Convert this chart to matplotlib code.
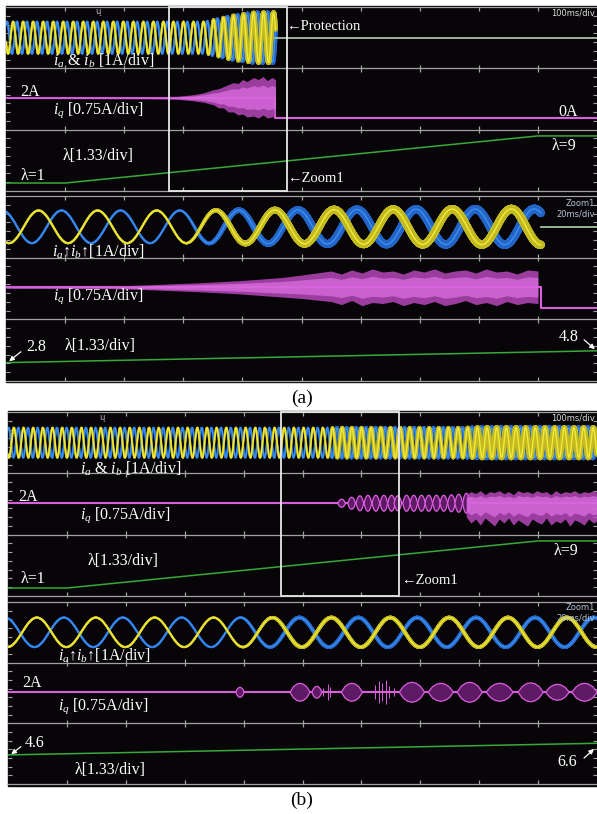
import numpy as np
import matplotlib.pyplot as plt
from matplotlib.collections import LineCollection
from matplotlib.patches import Rectangle, FancyArrowPatch

plt.rcParams["mathtext.fontset"] = "custom"
plt.rcParams["mathtext.rm"] = "Liberation Serif"
plt.rcParams["mathtext.it"] = "Liberation Serif:italic"

SERIF = ["Liberation Serif", "DejaVu Serif"]
SCOPE = ["Liberation Sans Narrow", "DejaVu Sans"]
W, H = 597, 814

# ---------------- values read off the two scope captures ----------------
# lambda command (same ramp in both tests), ms / -
lam_t = [0, 100, 900, 1000]
lam_val = [1, 1, 9, 9]

# zoom windows (ms)
zoom_a = (275, 475)
zoom_b = (464, 664)

# (a) phase currents ia, ib
ia_a_stop = 456                 # protection trips here (ms)
ia_a_lag = 140                  # deg
# slow view, 100 ms/div (displayed frequency)
ia_a_slow_hz = 59
ia_a_slow_peak = 12
ia_a_slow_amp_t = [0, 335, 380, 420, 456]
ia_a_slow_amp = [0.96, 0.96, 1.3, 1.5, 1.5]
ia_a_slow_noise_t = [0, 335, 380, 456]
ia_a_slow_noise = [0.03, 0.03, 0.09, 0.12]
# zoom view, 20 ms/div
ia_a_zoom_hz = 50
ia_a_zoom_peak = 286
ia_a_zoom_amp_t = [0, 335, 400, 456]
ia_a_zoom_amp = [0.98, 0.98, 1.05, 1.08]
ia_a_zoom_noise_t = [0, 335, 350, 380, 456]
ia_a_zoom_noise = [0.03, 0.03, 0.12, 0.2, 0.22]

# (a) iq
iq_a_t = [0, 456, 456, 1000]
iq_a = [2, 2, 0, 0]
iq_a_slow_env_t = [0, 240, 290, 317, 335, 351, 360, 368, 376, 385, 393, 400, 408, 419, 427, 435, 442, 450, 456]
iq_a_slow_hi = [0.08, 0.1, 0.15, 0.3, 0.5, 0.8, 0.9, 1.1, 1.3, 1.5, 1.4, 1.8, 1.6, 2.0, 1.8, 2.1, 1.7, 2.0, 1.8]
iq_a_slow_lo = [0.08, 0.1, 0.15, 0.3, 0.45, 0.7, 1.0, 1.0, 1.4, 1.4, 1.7, 1.6, 1.9, 1.8, 2.0, 1.7, 2.0, 1.9, 1.7]
iq_a_zoom_env_t = [275, 310, 324, 341, 354, 368, 375, 385, 388.5, 392, 395.5, 399, 402.5, 406, 409.5,
                   413, 416.5, 420, 423.5, 427, 430.5, 434, 437.5, 441, 444.5, 448, 451.5, 455]
iq_a_zoom_hi = [0.1, 0.12, 0.25, 0.45, 0.65, 0.95, 1.2, 1.6, 1.3, 1.7, 1.4, 1.8, 1.5, 1.6, 1.3,
                1.7, 1.5, 1.8, 1.4, 1.6, 1.7, 1.4, 1.8, 1.5, 1.6, 1.3, 1.7, 1.6]
iq_a_zoom_lo = [0.1, 0.12, 0.25, 0.45, 0.65, 0.95, 1.1, 1.4, 1.7, 1.3, 1.8, 1.5, 1.6, 1.4, 1.8,
                1.5, 1.7, 1.4, 1.8, 1.6, 1.3, 1.7, 1.5, 1.8, 1.4, 1.7, 1.5, 1.6]

# (b) phase currents ia, ib
ia_b_lag = 165
ia_b_slow_hz = 61
ia_b_slow_peak = 10
ia_b_zoom_hz = 50
ia_b_zoom_peak = 473.8
ia_b_amp_t = [0, 1000]
ia_b_amp = [0.9, 0.9]
ia_b_noise_t = [0, 540, 560, 775, 800, 1000]
ia_b_noise = [0.03, 0.03, 0.08, 0.08, 0.13, 0.13]

# (b) iq: beat lobes and noise band
iq_b_t = [0, 1000]
iq_b = [2, 2]
iq_b_slow_lobe_t = [565.6, 582.5, 596.6, 610.2, 623.7, 637.3, 650.3, 661.0, 675.8, 688.1,
                    701.2, 713.6, 726.6, 739.0, 752.0, 764.4, 777.5]
iq_b_slow_lobe_h = [0.4, 0.6, 0.75, 0.8, 0.8, 0.8, 0.8, 0.75, 0.8, 0.8,
                    0.8, 0.8, 0.8, 0.8, 0.85, 0.9, 1.0]
iq_b_slow_lobe_hw = 6.5
iq_b_slow_env_t = [778, 786, 794, 802, 810, 818, 826, 834, 842, 850, 858, 866, 874, 882, 890,
                   898, 906, 914, 922, 930, 938, 946, 954, 962, 970, 978, 986, 994, 1000]
iq_b_slow_hi = [0.8, 1.1, 0.9, 1.2, 0.8, 1.1, 1.0, 1.2, 0.9, 1.1, 0.8, 1.2, 1.0, 1.1, 0.9,
                1.2, 1.0, 1.1, 0.8, 1.2, 0.9, 1.1, 1.0, 1.2, 0.9, 1.1, 1.0, 1.2, 1.0]
iq_b_slow_lo = [1.4, 2.0, 1.6, 2.2, 1.5, 1.9, 2.3, 1.6, 2.0, 1.5, 2.2, 1.7, 2.0, 2.3, 1.6,
                1.9, 2.1, 1.5, 2.2, 1.8, 2.0, 1.6, 2.3, 1.7, 1.9, 2.2, 1.6, 2.0, 1.8]
iq_b_zoom_lobe_t = [542.6, 563.0, 568.7, 580.6, 601.0, 610.8, 620.6, 630.8, 641.3, 650.4, 659.6]
iq_b_zoom_lobe_hw = [1.4, 3.4, 1.7, 3.6, 4.3, 4.3, 4.3, 4.6, 4.3, 4.0, 4.3]
iq_b_zoom_lobe_h = [0.5, 0.9, 0.6, 0.9, 1.0, 0.9, 1.0, 0.9, 0.95, 0.8, 0.9]
iq_b_zoom_spike_t = [571.0, 572.5, 573.5, 588.5, 590.0, 591.0, 592.3, 593.5, 595.0]
iq_b_zoom_spike_h = [0.4, 0.8, 0.5, 0.7, 1.1, 0.9, 1.2, 0.6, 0.4]

# ---------------- screen scales (rows of the scope display) ----------------
PX_ROW = 61.5
IAB_ZERO, IAB = 2.5, 0.27       # rows, rows per A
IQ_ZERO, IQ = 1.19, 0.165
LAM_ONE, LAM = 0.13, 0.096

BG = "#080508"
GRID = "#a2a2a2"
YEL, YEL_D = "#f2ea38", "#c4bb22"
BLUE, BLUE_D = "#3a8ff0", "#2466c8"
MAG, MAG_D = "#dc5ee0", "#5e1a64"
GREEN = "#38a83a"
FLAT = "#a6c2a6"


def lam_row(v):
    return LAM_ONE + (np.asarray(v, float) - 1) * LAM


def iq_row(v):
    return IQ_ZERO + np.asarray(v, float) * IQ


def screen(fig, x0, y0, x1, y1):
    fig.patches.append(Rectangle((x0 / W, 1 - y1 / H), (x1 - x0) / W, (y1 - y0) / H,
                                 transform=fig.transFigure, color=BG, zorder=-10))


def section(fig, x0, y0, x1, y1, t0, t1):
    ax = fig.add_axes([x0 / W, 1 - y1 / H, (x1 - x0) / W, (y1 - y0) / H], zorder=2)
    ax.set_xlim(t0, t1)
    ax.set_ylim(0, 3)
    ax.axis("off")
    step = (t1 - t0) / 10
    divs = [t0 + k * step for k in range(1, 10)]
    for y in (0, 1, 2, 3):
        ax.plot([t0, t1], [y, y], color=GRID, lw=0.9, clip_on=False, zorder=1)
        lo = y - 0.06 if y > 0 else y
        hi = y + 0.06 if y < 3 else y
        ax.vlines(divs, lo, hi, color=GRID, lw=0.9, clip_on=False, zorder=1)
    minor = [k / 7 for k in range(1, 21) if k % 7]
    ax.hlines(minor, t0, t0 + 0.07 * step, color=GRID, lw=0.8, zorder=1)
    ax.hlines(minor, t1 - 0.07 * step, t1, color=GRID, lw=0.8, zorder=1)
    return ax


def draw_currents(ax, t0, t1, hz, peak, lag, amp_t, amp, noise_t, noise, stop=None):
    t_end = t1 if stop is None else min(t1, stop)
    t = np.linspace(t0, t_end, 3000)
    a = np.interp(t, amp_t, amp)
    n = np.interp(t, noise_t, noise)
    ph = 2 * np.pi * hz * (t - peak) / 1000
    ia = IAB_ZERO + IAB * a * np.cos(ph)
    ib = IAB_ZERO + IAB * a * np.cos(ph - np.radians(lag))
    lw = (2 * n * IAB * PX_ROW + 1.2) * 0.72
    for y, dark, bright in ((ib, BLUE_D, BLUE), (ia, YEL_D, YEL)):
        pts = np.column_stack([t, y]).reshape(-1, 1, 2)
        seg = np.concatenate([pts[:-1], pts[1:]], axis=1)
        ax.add_collection(LineCollection(seg, linewidths=lw[:-1], colors=dark,
                                         capstyle="round", alpha=0.9, zorder=2))
        ax.plot(t, y, color=bright, lw=1.0, zorder=2)
    if stop is not None and stop < t1:
        ax.plot([stop, t1], [IAB_ZERO, IAB_ZERO], color=FLAT, lw=1.3, zorder=2)


def draw_band(ax, t, level, hi, lo):
    hi, lo = np.asarray(hi), np.asarray(lo)
    base = iq_row(level)
    ax.fill_between(t, base - IQ * lo, base + IQ * hi, color="#c04cc6", alpha=0.8, lw=0, zorder=3)
    ax.fill_between(t, base - IQ * lo * 0.6, base + IQ * hi * 0.6, color="#e070e4", alpha=0.7,
                    lw=0, zorder=3)


LOBE_X = np.array([-1, -2 / 3, -1 / 3, 0, 1 / 3, 2 / 3, 1])
LOBE_Y = np.array([0, 0.6, 0.9, 1.0, 0.9, 0.6, 0])


def draw_lobes(ax, centers, hws, heights, level):
    base = iq_row(level)
    for c, hw, h in zip(centers, hws, heights):
        dy = IQ * h * LOBE_Y
        ax.fill_between(c + hw * LOBE_X, base - dy, base + dy, facecolor=MAG_D,
                        edgecolor=MAG, lw=0.9, zorder=3)


def draw_common(ax, iq_t, iq_v):
    ax.plot(iq_t, iq_row(iq_v), color=MAG, lw=1.5, zorder=3)
    ax.plot(lam_t, lam_row(lam_val), color=GREEN, lw=1.1, zorder=2)


fig = plt.figure(figsize=(W / 100, H / 100), dpi=100)
fig.patch.set_facecolor("white")


def label(x, y, s, size=11.5, color="white", ha="left", family=SERIF):
    fig.text(x / W, 1 - y / H, s, color=color, fontsize=size, ha=ha, va="center",
             family=family, zorder=6)


def arrow(x0, y0, x1, y1):
    fig.add_artist(FancyArrowPatch((x0 / W, 1 - y0 / H), (x1 / W, 1 - y1 / H),
                                   transform=fig.transFigure, arrowstyle="-|>",
                                   mutation_scale=7, color="white", lw=0.9, zorder=6))


# ---------------- (a) ----------------
screen(fig, 6, 6, 597, 382)
ax = section(fig, 6, 7, 597, 191, 0, 1000)
draw_currents(ax, 0, 1000, ia_a_slow_hz, ia_a_slow_peak, ia_a_lag, ia_a_slow_amp_t,
              ia_a_slow_amp, ia_a_slow_noise_t, ia_a_slow_noise, stop=ia_a_stop)
draw_common(ax, iq_a_t, iq_a)
draw_band(ax, iq_a_slow_env_t, 2, iq_a_slow_hi, iq_a_slow_lo)
ax.add_patch(Rectangle((zoom_a[0], 0), zoom_a[1] - zoom_a[0], 3, fill=False, ec="#e8e8e8",
                       lw=1.3, clip_on=False, zorder=5))

ax = section(fig, 6, 196, 597, 381, *zoom_a)
draw_currents(ax, *zoom_a, ia_a_zoom_hz, ia_a_zoom_peak, ia_a_lag, ia_a_zoom_amp_t,
              ia_a_zoom_amp, ia_a_zoom_noise_t, ia_a_zoom_noise, stop=ia_a_stop)
draw_common(ax, iq_a_t, iq_a)
draw_band(ax, iq_a_zoom_env_t, 2, iq_a_zoom_hi, iq_a_zoom_lo)

label(53, 61, r"$i_a$ & $i_b$ [1A/div]")
label(20, 92, "2A")
label(53, 110, r"$i_q$ [0.75A/div]")
label(63, 156, "λ[1.33/div]")
label(21, 176, "λ=1")
label(286, 26, "←Protection", size=10.5)
label(287, 179, "←Zoom1", size=10.5)
label(558, 112, "0A")
label(552, 146, "λ=9")
label(595, 13, "100ms/div", size=6, color="#dddddd", ha="right", family=SCOPE)
label(95, 12, "ų", size=6, color="#bbbbbb", family=["DejaVu Sans"])
label(52, 252, r"$i_a$↑$i_b$↑[1A/div]")
label(53, 296, r"$i_q$ [0.75A/div]")
label(26, 347, "2.8")
arrow(23, 350, 7, 363)
label(65, 346, "λ[1.33/div]")
label(559, 337, "4.8")
arrow(582, 338, 597, 351)
label(595, 203, "Zoom1", size=6, color="#b4c4d4", ha="right", family=SCOPE)
label(595, 214, "20ms/div", size=6, color="#b4c4d4", ha="right", family=SCOPE)
label(302, 398, "(a)", size=14, color="black", ha="center")

# ---------------- (b) ----------------
screen(fig, 8, 411, 597, 786)
ax = section(fig, 8, 412, 597, 596, 0, 1000)
draw_currents(ax, 0, 1000, ia_b_slow_hz, ia_b_slow_peak, ia_b_lag, ia_b_amp_t, ia_b_amp,
              ia_b_noise_t, ia_b_noise)
draw_common(ax, iq_b_t, iq_b)
draw_lobes(ax, iq_b_slow_lobe_t, [iq_b_slow_lobe_hw] * len(iq_b_slow_lobe_t),
           iq_b_slow_lobe_h, 2)
draw_band(ax, iq_b_slow_env_t, 2, iq_b_slow_hi, iq_b_slow_lo)
ax.add_patch(Rectangle((zoom_b[0], 0), zoom_b[1] - zoom_b[0], 3, fill=False, ec="#e8e8e8",
                       lw=1.3, clip_on=False, zorder=5))

ax = section(fig, 8, 602, 597, 784, *zoom_b)
draw_currents(ax, *zoom_b, ia_b_zoom_hz, ia_b_zoom_peak, ia_b_lag, ia_b_amp_t, ia_b_amp,
              ia_b_noise_t, ia_b_noise)
draw_common(ax, iq_b_t, iq_b)
draw_lobes(ax, iq_b_zoom_lobe_t, iq_b_zoom_lobe_hw, iq_b_zoom_lobe_h, 2)
base = iq_row(2)
ax.vlines(iq_b_zoom_spike_t, base - IQ * np.array(iq_b_zoom_spike_h),
          base + IQ * np.array(iq_b_zoom_spike_h), color=MAG, lw=0.7, zorder=3)

label(80, 469, r"$i_a$ & $i_b$ [1A/div]")
label(18, 497, "2A")
label(80, 515, r"$i_q$ [0.75A/div]")
label(88, 561, "λ[1.33/div]")
label(21, 579, "λ=1")
label(554, 551, "λ=9")
label(401, 580, "←Zoom1", size=10.5)
label(595, 418, "100ms/div", size=6, color="#dddddd", ha="right", family=SCOPE)
label(99, 417, "ų", size=6, color="#bbbbbb", family=["DejaVu Sans"])
label(58, 656, r"$i_a$↑$i_b$↑[1A/div]")
label(22, 683, "2A")
label(58, 706, r"$i_q$ [0.75A/div]")
label(25, 743, "4.6")
arrow(23, 745, 9, 756)
label(75, 770, "λ[1.33/div]")
label(557, 762, "6.6")
arrow(582, 760, 596, 747)
label(595, 607, "Zoom1", size=6, color="#b4c4d4", ha="right", family=SCOPE)
label(595, 618, "20ms/div", size=6, color="#b4c4d4", ha="right", family=SCOPE)
label(302, 800, "(b)", size=14, color="black", ha="center")

fig.savefig("out.png", dpi=100, facecolor="white")
